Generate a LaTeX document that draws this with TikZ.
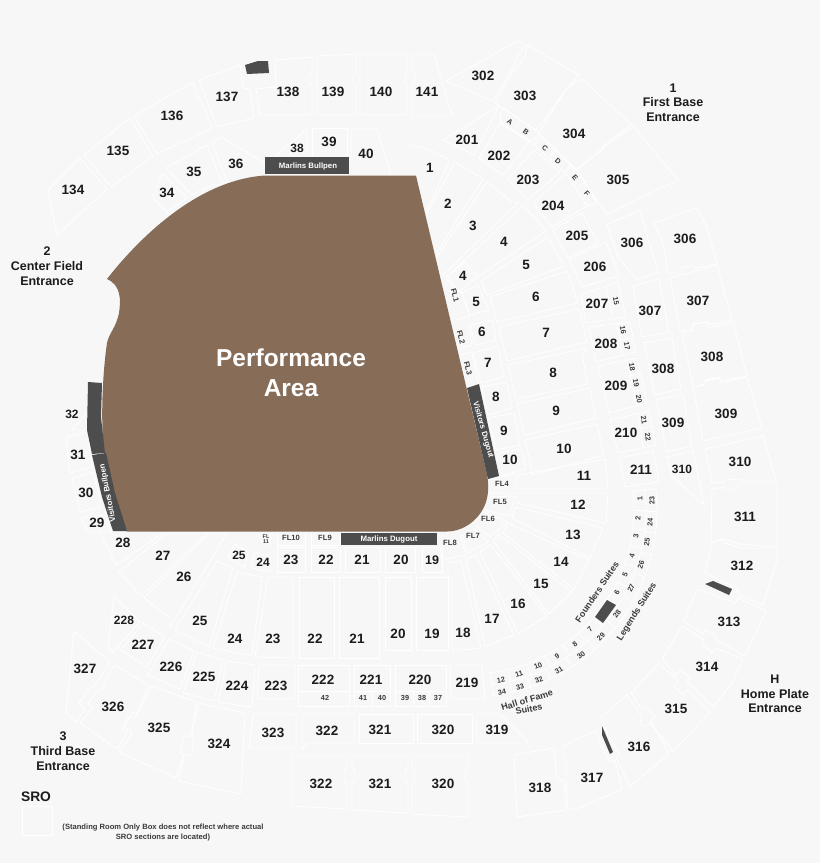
\documentclass[tikz,border=0pt]{standalone}
\usepackage{fontspec}
\setmainfont{Liberation Sans}
\definecolor{bgcol}{HTML}{F7F7F7}
\definecolor{fieldcol}{HTML}{876C58}
\definecolor{darkcol}{HTML}{4D4D4D}
\definecolor{inkcol}{HTML}{1C1C1C}
\definecolor{softcol}{HTML}{3A3A3A}
\begin{document}
\begin{tikzpicture}[
  x=1pt, y=-1pt,
  seat/.style={draw=white, line width=0.8pt, line join=round},
  sec/.style={font=\fontsize{13.5}{14}\bfseries, text=inkcol, inner sep=0pt},
  low/.style={font=\fontsize{7.6}{8}\bfseries, text=softcol, inner sep=0pt},
  tiny/.style={font=\fontsize{7.3}{8}\bfseries, text=softcol, inner sep=0pt},
  suite/.style={font=\fontsize{9}{10}\bfseries, text=softcol, inner sep=0pt, align=center},
  sign/.style={font=\fontsize{7.8}{8}\bfseries, text=white, inner sep=0pt},
  gate/.style={font=\fontsize{12.5}{14.7}\bfseries, text=inkcol, inner sep=0pt, align=center}
]

\fill[bgcol] (0,0) rectangle (820,863);
\useasboundingbox (0,0) rectangle (820,863);

\draw[seat] (48,190) -- (80,158) -- (107,189) -- (57,235) -- cycle;
\draw[seat] (84,155) -- (130,118) -- (153,156) -- (111,187) -- cycle;
\draw[seat] (134,116) -- (193,82) -- (197,98) -- (200,99) -- (212,128) -- (157,154) -- cycle;
\draw[seat] (199,80) -- (240,65) -- (243,88) -- (250,89) -- (254,118) -- (217,127) -- cycle;
\draw[seat] (256,89) -- (276,87) -- (275,60) -- (312,57) -- (312,73) -- (309,74) -- (309,83) -- (312,85) -- (312,115) -- (260,115) -- cycle;
\draw[seat] (317,56) -- (356,54) -- (356,73) -- (353,74) -- (353,84) -- (356,85) -- (356,115) -- (317,115) -- cycle;
\draw[seat] (360,54) -- (407,54) -- (407,73) -- (405,74) -- (405,83) -- (407,85) -- (407,115) -- (360,115) -- cycle;
\draw[seat] (412,54) -- (434,54) -- (452,116) -- (412,116) -- (412,83) -- (415,82) -- (415,72) -- (412,72) -- cycle;
\draw[seat] (162,173) -- (187,198) -- (167,212) -- (153,198) -- cycle;
\draw[seat] (166,168) -- (207,145) -- (223,185) -- (213,185) -- (192,195) -- cycle;
\draw[seat] (212,143) -- (221,137) -- (265,163) -- (265,175) -- (228,183) -- cycle;
\draw[seat] (275,156) -- (307,129) -- (307,156);
\draw[seat] (312,156) -- (312,128) -- (347,128) -- (347,156);
\draw[seat] (351,157) -- (351,129) -- (377,129) -- (391,175);

\draw[seat] (410,145) -- (430,150) -- (450,160) -- (427,210);
\draw[seat] (427,213) -- (455,162) -- (483,179) -- (437,252);
\draw[seat] (437,257) -- (487,182) -- (512,202) -- (519,202) -- (443,275);
\draw[seat] (445,278) -- (465,262) -- (477,277) -- (546,231) -- (523,205) -- (447,277);
\draw[seat] (448,277) -- (458,292) -- (477,277);
\draw[seat] (462,293) -- (478,285) -- (489,310) -- (470,315) -- cycle;
\draw[seat] (481,281) -- (548,237) -- (564,266) -- (487,295) -- cycle;
\draw[seat] (490,297) -- (567,271) -- (578,303) -- (497,322) -- cycle;
\draw[seat] (499,327) -- (579,309) -- (587,342) -- (507,361) -- cycle;
\draw[seat] (508,365) -- (587,348) -- (582,355) -- (588,384) -- (516,399) -- cycle;
\draw[seat] (517,404) -- (590,388) -- (596,418) -- (525,435) -- cycle;
\draw[seat] (525,440) -- (597,424) -- (604,455) -- (533,475) -- cycle;
\draw[seat] (518,475) -- (605,459) -- (608,489) -- (518,489) -- cycle;
\draw[seat] (517,493) -- (608,493) -- (606,523) -- (517,503) -- cycle;
\draw[seat] (515,507) -- (603,528) -- (590,558) -- (512,518) -- cycle;
\draw[seat] (508,523) -- (589,560) -- (574,589) -- (503,533) -- cycle;
\draw[seat] (498,534) -- (572,592) -- (549,614) -- (493,541) -- cycle;
\draw[seat] (490,544) -- (547,616) -- (518,634) -- (480,552) -- cycle;
\draw[seat] (476,555) -- (514,635) -- (485,646) -- (466,559) -- cycle;
\draw[seat] (448,563) -- (461,561) -- (481,648) -- (463,650) -- (452,650) -- (452,577) -- (448,577) -- cycle;
\draw[seat] (416,577) -- (448,577) -- (448,650) -- (416,650) -- cycle;
\draw[seat] (385,577) -- (411,577) -- (411,650) -- (385,650) -- cycle;
\draw[seat] (339,577) -- (379,577) -- (379,658) -- (339,658) -- cycle;
\draw[seat] (299,577) -- (334,577) -- (334,658) -- (299,658) -- cycle;
\draw[seat] (268,577) -- (293,577) -- (293,658) -- (255,657) -- cycle;
\draw[seat] (237,572) -- (262,577) -- (252,656) -- (213,648) -- cycle;
\draw[seat] (217,561) -- (233,568) -- (209,647) -- (175,630) -- cycle;
\draw[seat] (144,598) -- (210,533) -- (227,533) -- (170,627) -- (170,618) -- cycle;
\draw[seat] (119,572) -- (167,533) -- (207,533) -- (141,596) -- cycle;
\draw[seat] (100,533) -- (116,565) -- (163,533);
\draw[seat] (82,518) -- (105,515) -- (112,532) -- (87,532) -- cycle;
\draw[seat] (72,478) -- (93,472) -- (102,507) -- (80,512) -- cycle;
\draw[seat] (66,437) -- (88,432) -- (92,467) -- (70,473) -- cycle;
\draw[seat] (72,430) -- (87,430) -- (87,413) -- cycle;

\draw[seat] (470,325) -- (492,320) -- (496,340) -- (475,345) -- cycle;
\draw[seat] (473,353) -- (498,346) -- (504,377) -- (481,383) -- cycle;
\draw[seat] (482,387) -- (507,382) -- (512,408) -- (488,415) -- cycle;
\draw[seat] (488,418) -- (514,413) -- (520,445) -- (496,450) -- cycle;
\draw[seat] (500,453) -- (521,449) -- (526,469) -- (499,476);
\draw[seat] (447,280) -- (462,293) -- (470,316) -- (456,320);
\draw[seat] (468,325) -- (472,345) -- (462,347);
\draw[seat] (459,355) -- (472,352) -- (478,385);
\draw[seat] (488,480) -- (515,474) -- (515,493) -- (488,493);
\draw[seat] (489,497) -- (515,496) -- (509,516) -- (484,510);
\draw[seat] (484,512) -- (508,522) -- (490,537) -- (476,526);
\draw[seat] (474,529) -- (488,542) -- (468,553) -- (462,534);
\draw[seat] (460,535) -- (466,555) -- (442,560) -- (440,547);
\draw[seat] (422,547) -- (442,547) -- (442,572) -- (422,572) -- cycle;
\draw[seat] (385,547) -- (415,547) -- (415,572) -- (385,572) -- cycle;
\draw[seat] (345,547) -- (380,547) -- (380,572) -- (345,572) -- cycle;
\draw[seat] (311,547) -- (340,547) -- (340,572) -- (311,572) -- cycle;
\draw[seat] (277,547) -- (305,547) -- (305,572) -- (277,572) -- cycle;
\draw[seat] (255,552) -- (271,557) -- (271,572) -- (251,568) -- cycle;
\draw[seat] (235,544) -- (248,552) -- (245,567) -- (228,558) -- cycle;
\draw[seat] (311,533) -- (311,545) -- (340,545) -- (340,533);
\draw[seat] (277,533) -- (277,545) -- (305,545) -- (305,533);
\draw[seat] (261,533) -- (262,545) -- (269,545) -- (271,533);

\draw[seat] (443,140) -- (499,106) -- (474,155) -- cycle;
\draw[seat] (479,158) -- (500,123) -- (529,142) -- (503,175) -- cycle;
\draw[seat] (508,179) -- (534,150) -- (560,172) -- (528,200) -- cycle;
\draw[seat] (533,203) -- (566,173) -- (587,206) -- (552,227) -- cycle;
\draw[seat] (501,110) -- (505,109) -- (539,133) -- (532,142) -- (500,122) -- cycle;
\draw[seat] (520,121) -- (515,130);
\draw[seat] (534,145) -- (540,137) -- (571,164) -- (564,172) -- cycle;
\draw[seat] (550,157) -- (556,148);
\draw[seat] (571,165) -- (577,170) -- (597,203) -- (587,206) -- (566,173) -- cycle;
\draw[seat] (578,187) -- (588,180);
\draw[seat] (446,81) -- (517,41) -- (525,45) -- (518,55) -- (511,71) -- (493,101) -- cycle;
\draw[seat] (527,45) -- (579,75) -- (570,85) -- (557,101) -- (558,102) -- (536,130) -- (495,103) -- (512,73) -- (525,57) -- cycle;
\draw[seat] (582,79) -- (632,125) -- (617,135) -- (602,147) -- (603,149) -- (575,170) -- (539,133) -- (558,102) -- (568,87) -- cycle;
\draw[seat] (634,127) -- (678,180) -- (607,214) -- (596,199) -- (577,170) -- (603,148) -- (617,137) -- cycle;
\draw[seat] (553,230) -- (582,213) -- (598,243) -- (568,258) -- cycle;
\draw[seat] (569,260) -- (606,242) -- (619,276) -- (582,287) -- cycle;
\draw[seat] (581,295) -- (618,282) -- (626,317) -- (586,323) -- cycle;
\draw[seat] (606,287) -- (613,318);
\draw[seat] (589,327) -- (630,322) -- (636,352) -- (596,362) -- cycle;
\draw[seat] (617,323) -- (622,356);
\draw[seat] (619,340) -- (632,338);
\draw[seat] (598,366) -- (637,358) -- (647,403) -- (609,413) -- cycle;
\draw[seat] (627,361) -- (637,405);
\draw[seat] (628,376) -- (640,373);
\draw[seat] (632,392) -- (643,389);
\draw[seat] (610,420) -- (649,411) -- (656,445) -- (618,453) -- cycle;
\draw[seat] (638,413) -- (643,447);
\draw[seat] (641,429) -- (653,426);
\draw[seat] (619,458) -- (653,451) -- (659,482) -- (625,487) -- cycle;
\draw[seat] (607,224) -- (640,211) -- (658,272) -- (637,280) -- (618,257) -- cycle;
\draw[seat] (633,286) -- (659,279) -- (669,332) -- (642,337) -- cycle;
\draw[seat] (644,343) -- (672,338) -- (681,389) -- (655,395) -- cycle;
\draw[seat] (656,400) -- (683,394) -- (692,446) -- (667,452) -- cycle;
\draw[seat] (667,457) -- (693,451) -- (704,505) -- (672,476) -- cycle;
\draw[seat] (654,223) -- (697,208) -- (707,227) -- (717,264) -- (695,268) -- (693,265) -- (682,268) -- (682,273) -- (668,273) -- (663,243) -- cycle;
\draw[seat] (670,278) -- (717,265) -- (732,320) -- (708,325) -- (708,322) -- (693,324) -- (693,329) -- (680,331) -- cycle;
\draw[seat] (682,333) -- (693,331) -- (693,324) -- (708,322) -- (708,328) -- (733,322) -- (747,376) -- (720,381) -- (720,377) -- (705,380) -- (705,384) -- (693,387) -- cycle;
\draw[seat] (693,387) -- (705,385) -- (705,381) -- (720,378) -- (720,383) -- (747,377) -- (762,428) -- (703,441) -- cycle;
\draw[seat] (705,449) -- (763,436) -- (776,480) -- (738,480) -- (738,479) -- (725,480) -- (725,482) -- (712,483) -- cycle;
\draw[seat] (712,489) -- (725,487) -- (725,490) -- (738,490) -- (738,483) -- (777,483) -- (777,547) -- (740,544) -- (725,539) -- (711,542) -- cycle;
\draw[seat] (712,542) -- (723,539) -- (725,543) -- (741,548) -- (777,548) -- (777,560) -- (763,605) -- (738,595) -- (737,588) -- (705,573) -- cycle;
\draw[seat] (683,621) -- (698,589) -- (735,603) -- (738,598) -- (766,611) -- (745,656) -- (715,639) -- (716,635) -- (705,630) -- (703,634) -- cycle;
\draw[seat] (662,659) -- (682,626) -- (704,640) -- (702,645) -- (712,652) -- (716,648) -- (743,659) -- (732,683) -- (713,707) -- (687,681) -- (690,677) -- (680,670) -- (676,675) -- cycle;
\draw[seat] (631,693) -- (659,663) -- (678,681) -- (674,686) -- (683,695) -- (688,690) -- (710,712) -- (673,752) -- (650,722) -- (655,717) -- (646,707) -- (642,710) -- cycle;
\draw[seat] (601,717) -- (627,695) -- (642,717) -- (640,723) -- (645,727) -- (652,723) -- (669,754) -- (630,786) -- (616,757) -- (620,755) -- (608,735) -- cycle;
\draw[seat] (563,746) -- (595,731) -- (602,747) -- (610,762) -- (615,760) -- (622,789) -- (577,809) -- (568,809) -- (566,778) -- (566,760) -- (563,759) -- cycle;
\draw[seat] (514,755) -- (554,748) -- (557,779) -- (564,780) -- (566,810) -- (517,817) -- cycle;

\draw[seat] (450,665) -- (482,665) -- (485,699) -- (451,699) -- cycle;
\draw[seat] (395,665) -- (446,665) -- (446,706) -- (395,706) -- cycle;
\draw[seat] (395,691) -- (446,691);
\draw[seat] (413,691) -- (413,706);
\draw[seat] (429,691) -- (429,706);
\draw[seat] (354,665) -- (390,665) -- (390,706) -- (354,706) -- cycle;
\draw[seat] (354,691) -- (390,691);
\draw[seat] (372,691) -- (372,706);
\draw[seat] (298,665) -- (349,665) -- (349,706) -- (298,706) -- cycle;
\draw[seat] (298,691) -- (349,691);
\draw[seat] (259,665) -- (295,665) -- (295,699) -- (257,699) -- cycle;
\draw[seat] (227,661) -- (255,665) -- (252,707) -- (218,702) -- cycle;
\draw[seat] (197,652) -- (223,660) -- (214,701) -- (183,693) -- cycle;
\draw[seat] (169,639) -- (194,651) -- (180,689) -- (148,675) -- cycle;
\draw[seat] (143,623) -- (165,637) -- (147,667) -- (121,650) -- cycle;
\draw[seat] (114,596) -- (140,622) -- (113,652) -- (108,648) -- cycle;
\draw[seat] (74,631) -- (110,662) -- (94,687) -- (89,688) -- (79,703) -- (85,709) -- (76,722) -- (66,713) -- cycle;
\draw[seat] (114,665) -- (149,685) -- (135,717) -- (128,717) -- (122,729) -- (127,733) -- (117,749) -- (80,723) -- (93,708) -- (88,703) -- (98,690) -- (102,690) -- cycle;
\draw[seat] (152,686) -- (196,702) -- (192,736) -- (184,736) -- (180,752) -- (184,755) -- (176,778) -- (119,752) -- (132,733) -- (124,727) -- (133,712) -- (137,715) -- cycle;
\draw[seat] (199,703) -- (245,713) -- (241,794) -- (179,781) -- (184,755) -- (192,755) -- (194,737) -- (190,736) -- cycle;
\draw[seat] (253,714) -- (296,714) -- (296,748) -- (249,748) -- cycle;
\draw[seat] (302,714) -- (354,714) -- (354,743) -- (308,743) -- (302,749) -- cycle;
\draw[seat] (359,714) -- (413,714) -- (413,743) -- (359,743) -- cycle;
\draw[seat] (417,714) -- (472,714) -- (472,743) -- (417,743) -- cycle;
\draw[seat] (477,714) -- (500,714) -- (529,743) -- (477,743) -- cycle;
\draw[seat] (292,756) -- (347,756) -- (347,768) -- (344,769) -- (344,782) -- (347,783) -- (347,809) -- (292,806) -- cycle;
\draw[seat] (352,756) -- (408,756) -- (408,768) -- (405,769) -- (405,782) -- (408,783) -- (408,813) -- (352,810) -- (352,783) -- (355,782) -- (355,769) -- (352,768) -- cycle;
\draw[seat] (412,756) -- (468,756) -- (468,768) -- (465,769) -- (465,782) -- (468,783) -- (468,817) -- (412,814) -- (412,783) -- (415,782) -- (415,769) -- (412,768) -- cycle;
\draw[seat] (22,806) -- (52,806) -- (52,835) -- (22,835) -- cycle;

\begin{scope}[shift={(470,510)}]
  \draw[seat] plot[domain=-6.5:83, samples=40] (\x:164);
  \draw[seat] plot[domain=-6.5:83, samples=40] (\x:176);
  \draw[seat] plot[domain=-6.5:83, samples=40] (\x:187);
  \foreach \a in {-6.5,0,6.5,12.5,19,26,33,41,48.5,55.5,62.7,69.7,76.5,83}
    \draw[seat] (\a:164) -- (\a:176);
  \foreach \a in {-6.5,0.5,7,14,21,29.5,39,48,57,64.5,71,77,83}
    \draw[seat] (\a:176) -- (\a:187);
\end{scope}

\fill[fieldcol] (265,175.5) -- (416,175.5) -- (486,470)
  .. controls (489,482) and (489,492) .. (486,502)
  .. controls (480,520) and (463,531.5) .. (447,531.5)
  -- (127,531.5) .. controls (116,505) and (104,470) .. (103,440)
  .. controls (101,410) and (103,370) .. (107,343)
  .. controls (109,333) and (116,328) .. (119,313)
  .. controls (121,300) and (121,285) .. (107,279)
  .. controls (135,243) and (195,180) .. (265,175.5) -- cycle;

\fill[darkcol] (245,65) -- (258,61) -- (268,61) -- (269,73) -- (247,74) -- cycle;
\fill[darkcol] (265,157) rectangle (349,174);
\fill[darkcol] (88,382) -- (102,383) -- (101,417) -- (105,453) -- (92,454) -- (87,430) -- cycle;
\fill[darkcol] (92,455) -- (106,453) -- (115,493) -- (127,531) -- (113,531) -- (102,497) -- cycle;
\fill[darkcol] (467,388) -- (479,384) -- (499,476) -- (488,479) -- cycle;
\fill[darkcol] (341,533) rectangle (437,545);
\fill[darkcol] (607,600) -- (616,605) -- (603,623) -- (595,617) -- cycle;
\fill[darkcol] (705,584) -- (713,581) -- (732,589) -- (729,595) -- cycle;
\fill[darkcol] (602,726) -- (613,752) -- (610,754) -- (602,735) -- cycle;

\node[font=\fontsize{24.5}{30}\bfseries, text=white, align=center, inner sep=0pt] (area) at (291,373) {Performance\\Area};
\node[sign] (bullpenM) at (308,166) {Marlins Bullpen};
\node[sign] (dugoutM) at (389,539) {Marlins Dugout};
\node[sign, rotate=101] (bullpenV) at (108,493) {Visitors Bullpen};
\node[sign, rotate=-74] (dugoutV) at (483,430) {Visitors Dugout};

\node[gate] (gate1) at (673,102.5) {1\\First Base\\Entrance};
\node[gate] (gate2) at (47,266) {2\\Center Field\\Entrance};
\node[gate] (gate3) at (63,751) {3\\Third Base\\Entrance};
\node[gate] (gateH) at (775,694) {H\\Home Plate\\Entrance};
\node[font=\fontsize{13.8}{14}\bfseries, text=inkcol, inner sep=0pt] (sro) at (36,797) {SRO};
\node[font=\fontsize{7.6}{10.7}\bfseries, text=softcol, inner sep=0pt, align=center] (sronote) at (163,832.5) {(Standing Room Only Box does not reflect where actual\\SRO sections are located)};

\node[sec] (s134) at (73,190) {134};
\node[sec] (s135) at (118,151) {135};
\node[sec] (s136) at (172,116) {136};
\node[sec] (s137) at (227,97) {137};
\node[sec] (s138) at (288,92) {138};
\node[sec] (s139) at (333,92) {139};
\node[sec] (s140) at (381,92) {140};
\node[sec] (s141) at (427,92) {141};
\node[sec] (s34) at (167,193) {34};
\node[sec] (s35) at (194,172) {35};
\node[sec] (s36) at (236,164) {36};
\node[sec, font=\fontsize{12}{13}\bfseries] (s38) at (297,148) {38};
\node[sec] (s39) at (329,142) {39};
\node[sec] (s40) at (366,154) {40};
\node[sec] (s302) at (483,76) {302};
\node[sec] (s303) at (525,96) {303};
\node[sec] (s304) at (574,134) {304};
\node[sec] (s305) at (618,180) {305};
\node[sec] (s201) at (467,140) {201};
\node[sec] (s202) at (499,156) {202};
\node[sec] (s203) at (528,180) {203};
\node[sec] (s204) at (553,206) {204};
\node[sec] (s205) at (577,236) {205};
\node[sec] (s206) at (595,267) {206};
\node[sec] (s306a) at (632,243) {306};
\node[sec] (s306b) at (685,239) {306};
\node[sec] (s307a) at (650,311) {307};
\node[sec] (s307b) at (698,301) {307};
\node[sec] (s207) at (597,304) {207};
\node[sec] (s208) at (606,344) {208};
\node[sec] (s209) at (616,386) {209};
\node[sec] (s210) at (626,433) {210};
\node[sec] (s211) at (641,470) {211};
\node[sec] (s308a) at (663,369) {308};
\node[sec] (s308b) at (712,357) {308};
\node[sec] (s309a) at (673,423) {309};
\node[sec] (s309b) at (726,414) {309};
\node[sec, font=\fontsize{12}{13}\bfseries] (s310a) at (682,469) {310};
\node[sec] (s310b) at (740,462) {310};
\node[sec] (s311) at (745,517) {311};
\node[sec] (s312) at (742,566) {312};
\node[sec] (s313) at (729,622) {313};
\node[sec] (s314) at (707,667) {314};
\node[sec] (s315) at (676,709) {315};
\node[sec] (s316) at (639,747) {316};
\node[sec] (s317) at (592,778) {317};
\node[sec] (s318) at (540,788) {318};
\node[sec] (s319) at (497,730) {319};
\node[sec] (s320a) at (443,730) {320};
\node[sec] (s321a) at (380,730) {321};
\node[sec] (s322a) at (327,731) {322};
\node[sec] (s323) at (273,733) {323};
\node[sec] (s320b) at (443,784) {320};
\node[sec] (s321b) at (380,784) {321};
\node[sec] (s322b) at (321,784) {322};
\node[sec] (s324) at (219,744) {324};
\node[sec] (s325) at (159,728) {325};
\node[sec] (s326) at (113,707) {326};
\node[sec] (s327) at (85,669) {327};
\node[sec, font=\fontsize{12}{13}\bfseries] (s228) at (124,620) {228};
\node[sec] (s227) at (143,645) {227};
\node[sec] (s226) at (171,667) {226};
\node[sec] (s225) at (204,677) {225};
\node[sec] (s224) at (237,686) {224};
\node[sec] (s223) at (276,686) {223};
\node[sec] (s222) at (323,680) {222};
\node[sec] (s221) at (371,680) {221};
\node[sec] (s220) at (420,680) {220};
\node[sec] (s219) at (467,683) {219};

\node[sec] (s1) at (430,168) {1};
\node[sec] (s2) at (448,204) {2};
\node[sec] (s3) at (473,226) {3};
\node[sec] (s4) at (504,242) {4};
\node[sec] (s5) at (526,265) {5};
\node[sec] (s6) at (536,297) {6};
\node[sec] (s7) at (546,333) {7};
\node[sec] (s8) at (553,373) {8};
\node[sec] (s9) at (556,411) {9};
\node[sec] (s10) at (564,449) {10};
\node[sec] (s11) at (584,476) {11};
\node[sec] (s12) at (578,505) {12};
\node[sec] (s13) at (573,535) {13};
\node[sec] (s14) at (561,562) {14};
\node[sec] (s15) at (541,584) {15};
\node[sec] (s16) at (518,604) {16};
\node[sec] (s17) at (492,619) {17};
\node[sec] (s18) at (463,633) {18};
\node[sec] (s19) at (432,634) {19};
\node[sec] (s20) at (398,634) {20};
\node[sec] (s21) at (357,639) {21};
\node[sec] (s22) at (315,639) {22};
\node[sec] (s23) at (273,639) {23};
\node[sec] (s24) at (235,639) {24};
\node[sec] (s25) at (200,621) {25};
\node[sec] (s26) at (184,577) {26};
\node[sec] (s27) at (163,556) {27};
\node[sec] (s28) at (123,543) {28};
\node[sec] (s29) at (97,523) {29};
\node[sec] (s30) at (86,493) {30};
\node[sec] (s31) at (78,455) {31};
\node[sec, font=\fontsize{12}{13}\bfseries] (s32) at (72,414) {32};

\node[sec] (f4) at (463,276) {4};
\node[sec] (f5) at (476,302) {5};
\node[sec] (f6) at (482,332) {6};
\node[sec] (f7) at (488,363) {7};
\node[sec] (f8) at (496,397) {8};
\node[sec] (f9) at (504,431) {9};
\node[sec] (f10) at (510,460) {10};
\node[sec, font=\fontsize{12.5}{13}\bfseries] (f19) at (432,560) {19};
\node[sec] (f20) at (401,560) {20};
\node[sec] (f21) at (362,560) {21};
\node[sec] (f22) at (326,560) {22};
\node[sec] (f23) at (291,560) {23};
\node[sec, font=\fontsize{12}{13}\bfseries] (f24) at (263,562) {24};
\node[sec, font=\fontsize{12}{13}\bfseries] (f25) at (239,555) {25};

\node[low, rotate=-76] (fl1) at (455,295) {FL1};
\node[low, rotate=-76] (fl2) at (461,337) {FL2};
\node[low, rotate=-76] (fl3) at (468,368) {FL3};
\node[low] (fl4) at (502,484) {FL4};
\node[low] (fl5) at (500,502) {FL5};
\node[low] (fl6) at (488,519) {FL6};
\node[low] (fl7) at (473,536) {FL7};
\node[low] (fl8) at (450,543) {FL8};
\node[low] (fl9) at (325,538) {FL9};
\node[low] (fl10) at (291,538) {FL10};
\node[tiny, font=\fontsize{5.5}{5.8}\bfseries, align=center] (fl11) at (266,539) {FL\\11};

\node[tiny, rotate=-35] (stA) at (510,122) {A};
\node[tiny, rotate=-35] (stB) at (526,132) {B};
\node[tiny, rotate=-40] (stC) at (545,148) {C};
\node[tiny, rotate=-40] (stD) at (558,161) {D};
\node[tiny, rotate=-50] (stE) at (575,178) {E};
\node[tiny, rotate=-50] (stF) at (587,194) {F};
\node[tiny, rotate=-80] (st15) at (616,301) {15};
\node[tiny, rotate=-80] (st16) at (623,330) {16};
\node[tiny, rotate=-80] (st17) at (627,346) {17};
\node[tiny, rotate=-80] (st18) at (632,367) {18};
\node[tiny, rotate=-80] (st19) at (636,383) {19};
\node[tiny, rotate=-80] (st20) at (639,399) {20};
\node[tiny, rotate=-80] (st21) at (644,420) {21};
\node[tiny, rotate=-80] (st22) at (648,437) {22};
\node[tiny] (c42) at (325,698) {42};
\node[tiny] (c41) at (363,698) {41};
\node[tiny] (c40) at (382,698) {40};
\node[tiny] (c39) at (405,698) {39};
\node[tiny] (c38) at (422,698) {38};
\node[tiny] (c37) at (438,698) {37};

\node[tiny, rotate=94] (h1) at (640,499) {1};
\node[tiny, rotate=87] (h2) at (638,518) {2};
\node[tiny, rotate=81] (h3) at (636,536) {3};
\node[tiny, rotate=74] (h4) at (632,556) {4};
\node[tiny, rotate=68] (h5) at (625,575) {5};
\node[tiny, rotate=61] (h6) at (617,592) {6};
\node[tiny, rotate=45] (h7) at (590,629) {7};
\node[tiny, rotate=38] (h8) at (575,644) {8};
\node[tiny, rotate=31] (h9) at (557,656) {9};
\node[tiny, rotate=24] (h10) at (538,666) {10};
\node[tiny, rotate=17] (h11) at (519,674) {11};
\node[tiny, rotate=10] (h12) at (501,680) {12};
\node[tiny, rotate=93] (h23) at (652,501) {23};
\node[tiny, rotate=86] (h24) at (650,522) {24};
\node[tiny, rotate=80] (h25) at (647,542) {25};
\node[tiny, rotate=72] (h26) at (641,565) {26};
\node[tiny, rotate=65] (h27) at (631,588) {27};
\node[tiny, rotate=55] (h28) at (617,614) {28};
\node[tiny, rotate=46] (h29) at (601,637) {29};
\node[tiny, rotate=37] (h30) at (581,655) {30};
\node[tiny, rotate=29] (h31) at (559,670) {31};
\node[tiny, rotate=22] (h32) at (539,680) {32};
\node[tiny, rotate=16] (h33) at (520,687) {33};
\node[tiny, rotate=10] (h34) at (502,692) {34};

\node[suite, rotate=56] (founders) at (597,592) {Founders Suites};
\node[suite, rotate=58] (legends) at (637,612) {Legends Suites};
\node[suite, rotate=17] (hall) at (527,700) {Hall of Fame};
\node[suite, rotate=12] (hallb) at (529,709) {Suites};

\end{tikzpicture}
\end{document}
